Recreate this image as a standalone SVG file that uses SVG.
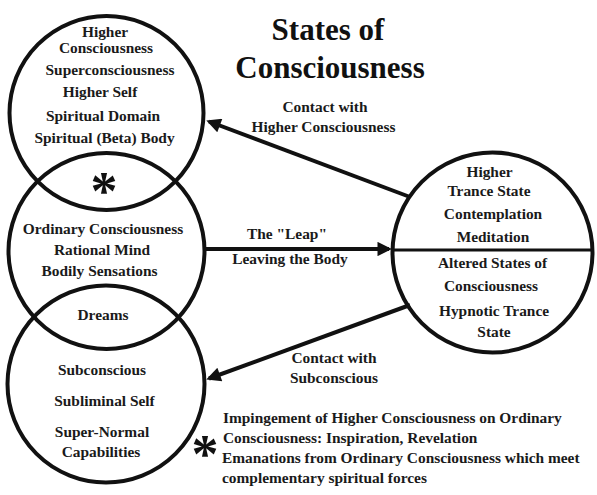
<svg xmlns="http://www.w3.org/2000/svg" width="597" height="495" viewBox="0 0 597 495">
<defs>
<style>
.c{fill:none;stroke:#111;stroke-width:4}
.t{font-family:"Liberation Serif","Times New Roman",serif;font-weight:bold;font-size:15.4px;fill:#1a1a1a;text-anchor:middle}
.l{text-anchor:start}
.ttl{font-size:31px;fill:#111}
.ast{font-size:54px;fill:#111}
.ln{stroke:#111;stroke-width:4;fill:none}
</style>
<marker id="ah" viewBox="0 0 10 10" refX="8" refY="5" markerWidth="5" markerHeight="3.6" markerUnits="strokeWidth" orient="auto">
<path d="M0,0 L10,5 L0,10 z" fill="#111"/>
</marker>
</defs>
<rect width="597" height="495" fill="#fff"/>
<g id="title">
<text class="t ttl" x="328" y="40">States of</text>
<text class="t ttl" x="330" y="78">Consciousness</text>
</g>
<g id="higher">
<circle class="c" cx="106.5" cy="113" r="97"/>
<text class="t" x="105" y="37">Higher</text>
<text class="t" x="106" y="53">Consciousness</text>
<text class="t" x="110" y="75">Superconsciousness</text>
<text class="t" x="100" y="97">Higher Self</text>
<text class="t" x="103" y="121">Spiritual Domain</text>
<text class="t" x="104.5" y="143">Spiritual (Beta) Body</text>
<text class="t ast" x="104" y="209">*</text>
</g>
<g id="ordinary">
<circle class="c" cx="106.5" cy="251" r="98"/>
<text class="t" x="103" y="234">Ordinary Consciousness</text>
<text class="t" x="102" y="255">Rational Mind</text>
<text class="t" x="99.5" y="276">Bodily Sensations</text>
<text class="t" x="103" y="320">Dreams</text>
</g>
<g id="subconscious">
<circle class="c" cx="106" cy="384" r="98.5"/>
<text class="t" x="102" y="375">Subconscious</text>
<text class="t" x="104.5" y="406">Subliminal Self</text>
<text class="t" x="102" y="437">Super-Normal</text>
<text class="t" x="101" y="457">Capabilities</text>
</g>
<g id="trance">
<circle class="c" cx="492.5" cy="252.5" r="100"/>
<line x1="393" y1="250" x2="592" y2="250" stroke="#111" stroke-width="3"/>
<text class="t" x="489.5" y="177">Higher</text>
<text class="t" x="489" y="196">Trance State</text>
<text class="t" x="493" y="219">Contemplation</text>
<text class="t" x="493" y="242">Meditation</text>
<text class="t" x="492.5" y="268">Altered States of</text>
<text class="t" x="491" y="291">Consciousness</text>
<text class="t" x="494" y="316">Hypnotic Trance</text>
<text class="t" x="494" y="337">State</text>
</g>
<g id="connectors">
<line class="ln" x1="410" y1="197" x2="209" y2="121.5" marker-end="url(#ah)"/>
<line class="ln" x1="206" y1="249" x2="389" y2="249" marker-end="url(#ah)"/>
<line class="ln" x1="410" y1="305" x2="209" y2="378.5" marker-end="url(#ah)"/>
<text class="t" x="325" y="112">Contact with</text>
<text class="t" x="323.5" y="132">Higher Consciousness</text>
<text class="t" x="287" y="239">The "Leap"</text>
<text class="t" x="290" y="264">Leaving the Body</text>
<text class="t" x="334" y="363">Contact with</text>
<text class="t" x="334" y="383">Subconscious</text>
</g>
<g id="legend">
<text class="t ast" x="205" y="472">*</text>
<text class="t l" x="223" y="423">Impingement of Higher Consciousness on Ordinary</text>
<text class="t l" x="223" y="443">Consciousness: Inspiration, Revelation</text>
<text class="t l" x="222" y="463">Emanations from Ordinary Consciousness which meet</text>
<text class="t l" x="222" y="483">complementary spiritual forces</text>
</g>
</svg>
